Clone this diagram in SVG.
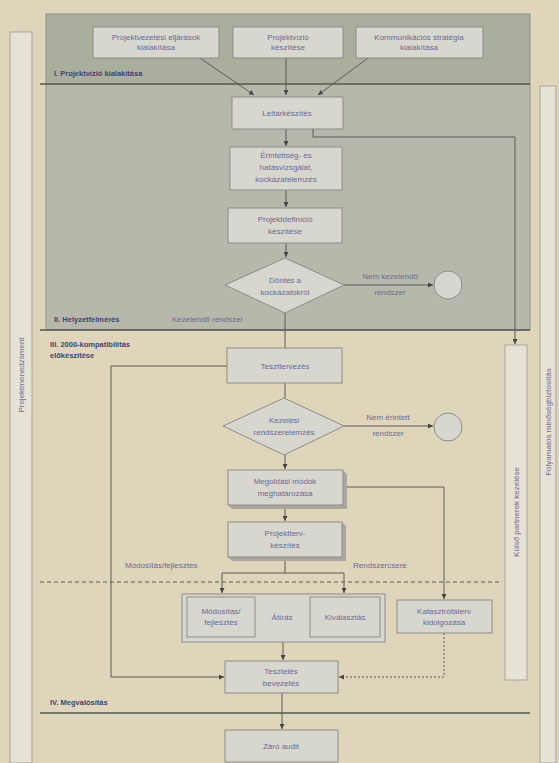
<svg xmlns="http://www.w3.org/2000/svg" width="559" height="763" viewBox="0 0 559 763">
<style>
.bg{fill:#dfd5ba}
.box{fill:#d7d6cf;stroke:#8d8c86;stroke-width:1}
.sh{fill:#a9a79e}
.bar{fill:#e6e2d6;stroke:#a9a59b;stroke-width:1}
.t{font-family:"Liberation Sans",Arial,sans-serif;font-size:8px;fill:#6e6a94;text-anchor:middle}
.tl{font-family:"Liberation Sans",Arial,sans-serif;font-size:8px;fill:#6e6a94}
.sec{font-family:"Liberation Sans",Arial,sans-serif;font-size:7.5px;fill:#3f4470;font-weight:bold}
.c{fill:none;stroke:#5b5b57;stroke-width:1}
.d{fill:none;stroke:#5b5b57;stroke-width:1;stroke-dasharray:2,2}
.sep{stroke:#55574f;stroke-width:1.6}
</style>
<defs>
<marker id="a" viewBox="0 0 6 6" refX="6" refY="3" markerWidth="5" markerHeight="5" orient="auto"><path d="M0,0L6,3L0,6z" fill="#444"/></marker>
</defs>
<rect class="bg" x="0" y="0" width="559" height="763"/>
<rect x="46" y="14" width="484" height="70" fill="#aaae9f"/>
<rect x="46" y="84" width="484" height="246" fill="#b6b8ab"/>
<rect x="46" y="14" width="484" height="316" fill="none" stroke="#8f9288" stroke-width="1"/>
<line class="sep" x1="40" y1="84" x2="530" y2="84"/>
<line class="sep" x1="40" y1="330" x2="530" y2="330"/>
<line class="sep" x1="40" y1="713" x2="530" y2="713" stroke-width="1.2"/>
<line x1="40" y1="582" x2="500" y2="582" stroke="#5b5b57" stroke-width="1" stroke-dasharray="4,3"/>
<text class="sec" x="54" y="76">I. Projektvízió kialakítása</text>
<text class="sec" x="54" y="322">II. Helyzetfelmérés</text>
<text class="sec" x="50" y="347">III. 2000-kompatibilitás</text>
<text class="sec" x="50" y="358">előkészítése</text>
<text class="sec" x="50" y="705">IV. Megvalósítás</text>
<text class="tl" x="172" y="322">Kezelendő rendszer</text>
<text class="tl" x="125" y="568">Módosítás/fejlesztés</text>
<text class="tl" x="353" y="568">Rendszercsere</text>
<g id="left-bar"><rect class="bar" x="10" y="32" width="22" height="731"/><text class="t" transform="translate(24,375) rotate(-90)">Projektmenedzsment</text></g>
<g id="right-bar"><rect class="bar" x="540" y="86" width="16" height="677"/><text class="t" transform="translate(551,422) rotate(-90)">Folyamatos minőségbiztosítás</text></g>
<g id="kulso"><rect class="bar" x="505" y="345" width="22" height="335"/><text class="t" transform="translate(519,512) rotate(-90)">Külső partnerek kezelése</text></g>
<g id="connectors">
<path class="c" d="M200,58L254,95" marker-end="url(#a)"/>
<path class="c" d="M286,58L286,95" marker-end="url(#a)"/>
<path class="c" d="M368,58L318,95" marker-end="url(#a)"/>
<path class="c" d="M286,129L286,146" marker-end="url(#a)"/>
<path class="c" d="M313,129L313,137L515,137L515,344" marker-end="url(#a)"/>
<path class="c" d="M286,190L286,207" marker-end="url(#a)"/>
<path class="c" d="M286,243L286,257" marker-end="url(#a)"/>
<path class="c" d="M344,285L433,285" marker-end="url(#a)"/>
<path class="c" d="M285,313L285,348"/>
<path class="c" d="M285,383L285,398"/>
<path class="c" d="M344,426L433,426" marker-end="url(#a)"/>
<path class="c" d="M285,455L285,469" marker-end="url(#a)"/>
<path class="c" d="M285,505L285,521" marker-end="url(#a)"/>
<path class="c" d="M343,487L444,487L444,599" marker-end="url(#a)"/>
<path class="c" d="M285,557L285,573"/>
<path class="c" d="M222,573L344,573"/>
<path class="c" d="M222,573L222,593" marker-end="url(#a)"/>
<path class="c" d="M344,573L344,593" marker-end="url(#a)"/>
<path class="c" d="M227,366L111,366L111,677L224,677" marker-end="url(#a)"/>
<path class="c" d="M283,642L283,660" marker-end="url(#a)"/>
<path class="d" d="M444,633L444,677L339,677" marker-end="url(#a)"/>
<path class="c" d="M282,693L282,729" marker-end="url(#a)"/>
</g>
<g id="n1"><rect class="box" x="93" y="27" width="126" height="31"/><text class="t" x="156" y="40">Projektvezetési eljárások</text><text class="t" x="156" y="50">kialakítása</text></g>
<g id="n2"><rect class="box" x="233" y="27" width="110" height="31"/><text class="t" x="288" y="40">Projektvízió</text><text class="t" x="288" y="50">készítése</text></g>
<g id="n3"><rect class="box" x="356" y="27" width="127" height="31"/><text class="t" x="419" y="40">Kommunikációs stratégia</text><text class="t" x="419" y="50">kialakítása</text></g>
<g id="n4"><rect class="box" x="232" y="97" width="111" height="32"/><text class="t" x="287" y="116">Leltárkészítés</text></g>
<g id="n5"><rect class="box" x="230" y="147" width="112" height="43"/><text class="t" x="286" y="158">Érintettség- és</text><text class="t" x="286" y="170">hatásvizsgálat,</text><text class="t" x="286" y="182">kockázatelemzés</text></g>
<g id="n6"><rect class="box" x="228" y="208" width="114" height="35"/><text class="t" x="285" y="222">Projektdefiníció</text><text class="t" x="285" y="234">készítése</text></g>
<g id="n7"><path class="box" d="M285,258L344,285L285,313L225,285z"/><text class="t" x="285" y="283">Döntés a</text><text class="t" x="285" y="295">kockázatokról</text></g>
<text class="t" x="390" y="279">Nem kezelendő</text><text class="t" x="390" y="295">rendszer</text>
<g id="n8"><circle class="box" cx="448" cy="285" r="14" fill="#dcdbd4"/></g>
<g id="n9"><rect class="box" x="227" y="348" width="115" height="35"/><text class="t" x="285" y="369">Teszttervezés</text></g>
<g id="n10"><path class="box" d="M284,398L344,426L284,455L223,426z"/><text class="t" x="284" y="423">Kezelési</text><text class="t" x="284" y="435">rendszerelemzés</text></g>
<text class="t" x="388" y="420">Nem érintett</text><text class="t" x="388" y="436">rendszer</text>
<g id="n11"><circle class="box" cx="448" cy="427" r="14" fill="#dcdbd4"/></g>
<g id="n12"><path class="sh" d="M343,470L347,474L347,509L232,509L228,505L343,505z"/><rect class="box" x="228" y="470" width="115" height="35"/><text class="t" x="285" y="484">Megoldási módok</text><text class="t" x="285" y="496">meghatározása</text></g>
<g id="n13"><path class="sh" d="M342,522L346,526L346,561L232,561L228,557L342,557z"/><rect class="box" x="228" y="522" width="114" height="35"/><text class="t" x="285" y="536">Projektterv-</text><text class="t" x="285" y="548">készítés</text></g>
<g id="n14"><rect class="box" x="182" y="594" width="203" height="48"/>
<rect class="box" x="187" y="597" width="68" height="40"/><text class="t" x="221" y="614">Módosítás/</text><text class="t" x="221" y="625">fejlesztés</text>
<text class="t" x="282" y="620">Átírás</text>
<rect class="box" x="310" y="597" width="70" height="40"/><text class="t" x="345" y="620">Kiválasztás</text></g>
<g id="n15"><rect class="box" x="397" y="600" width="95" height="33"/><text class="t" x="444" y="614">Katasztrófaterv</text><text class="t" x="444" y="625">kidolgozása</text></g>
<g id="n16"><rect class="box" x="225" y="661" width="113" height="32"/><text class="t" x="281" y="674">Tesztelés</text><text class="t" x="281" y="686">bevezetés</text></g>
<g id="n17"><rect class="box" x="225" y="730" width="113" height="32"/><text class="t" x="281" y="749">Záró audit</text></g>
</svg>
